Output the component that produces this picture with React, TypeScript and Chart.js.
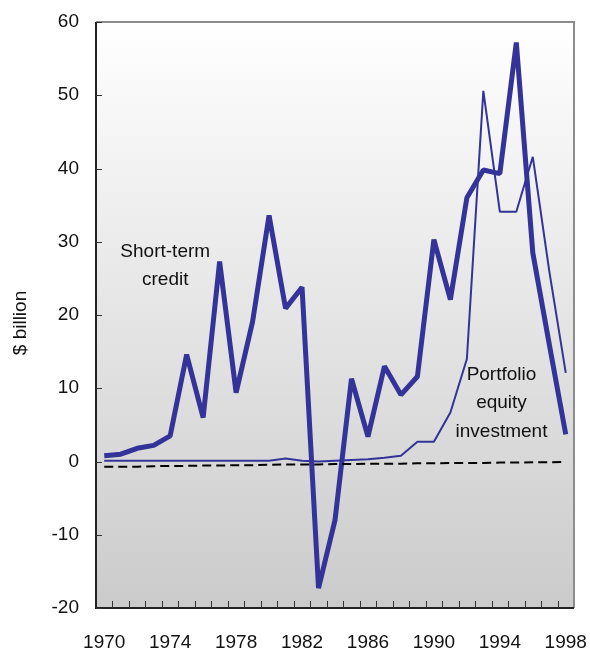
import React, { useEffect, useRef } from 'react';
import { Chart, registerables } from 'chart.js';

Chart.register(...registerables);

const years = [
  '1970', '1971', '1972', '1973', '1974', '1975', '1976', '1977', '1978', '1979',
  '1980', '1981', '1982', '1983', '1984', '1985', '1986', '1987', '1988', '1989',
  '1990', '1991', '1992', '1993', '1994', '1995', '1996', '1997', '1998',
];

const shortTermCredit = [
  0.8, 1.0, 1.8, 2.2, 3.5, 14.6, 6.0, 27.3, 9.4, 19.1,
  33.6, 20.9, 23.8, -17.3, -8.0, 11.3, 3.4, 13.0, 9.1, 11.6,
  30.3, 22.1, 36.0, 39.8, 39.3, 57.2, 28.5, 16.0, 3.7,
];

const portfolioEquity = [
  0.1, 0.1, 0.1, 0.1, 0.1, 0.1, 0.1, 0.1, 0.1, 0.1,
  0.1, 0.4, 0.1, 0.0, 0.1, 0.2, 0.3, 0.5, 0.8, 2.7,
  2.7, 6.7, 14.0, 50.6, 34.1, 34.1, 41.6, 26.0, 12.1,
];

const baseline = [
  -0.7, -0.7, -0.7, -0.65, -0.6, -0.6, -0.55, -0.55, -0.5, -0.5,
  -0.45, -0.4, -0.4, -0.4, -0.35, -0.35, -0.3, -0.3, -0.3, -0.25,
  -0.25, -0.2, -0.2, -0.2, -0.15, -0.15, -0.1, -0.1, -0.05,
];

const yMin = -20;
const yMax = 60;
const yStep = 10;
const yTitle = '$ billion';

const FONT = '"Liberation Sans", Arial, sans-serif';
const LINE_COLOR = '#333399';

// annotation anchors in data space (category index, value)
const annotations = [
  { lines: ['Short-term', 'credit'], x: 3.7, y: 28.6, gap: 3.8 },
  { lines: ['Portfolio', 'equity', 'investment'], x: 24.1, y: 11.9, gap: 3.9 },
];

const framePlugin = {
  id: 'frame',
  beforeDatasetsDraw(chart: any) {
    const { ctx, chartArea: a } = chart;
    const g = ctx.createLinearGradient(0, a.top, 0, a.bottom);
    g.addColorStop(0, '#ffffff');
    g.addColorStop(1, '#cbcbcb');
    ctx.save();
    ctx.fillStyle = g;
    ctx.fillRect(a.left, a.top, a.right - a.left, a.bottom - a.top);
    ctx.restore();
  },
  afterDraw(chart: any) {
    const { ctx, chartArea: a, scales } = chart;
    const xs = scales.x;
    const ys = scales.y;
    ctx.save();
    // grey top/right border
    ctx.strokeStyle = '#8c8c8c';
    ctx.lineWidth = 2;
    ctx.beginPath();
    ctx.moveTo(a.left, a.top);
    ctx.lineTo(a.right, a.top);
    ctx.lineTo(a.right, a.bottom);
    ctx.stroke();
    // black left/bottom axes
    ctx.strokeStyle = '#222222';
    ctx.lineWidth = 2;
    ctx.beginPath();
    ctx.moveTo(a.left, a.top);
    ctx.lineTo(a.left, a.bottom);
    ctx.lineTo(a.right, a.bottom);
    ctx.stroke();
    // inner ticks
    ctx.lineWidth = 1;
    ctx.strokeStyle = '#333333';
    ctx.beginPath();
    for (let v = yMin; v <= yMax; v += yStep) {
      const py = Math.round(ys.getPixelForValue(v)) + 0.5;
      ctx.moveTo(a.left, py);
      ctx.lineTo(a.left + 6, py);
    }
    const n = years.length;
    for (let i = 1; i < n; i++) {
      const px = Math.round((xs.getPixelForValue(i - 1) + xs.getPixelForValue(i)) / 2) + 0.5;
      ctx.moveTo(px, a.bottom);
      ctx.lineTo(px, a.bottom - 7);
    }
    ctx.stroke();
    // annotations
    ctx.fillStyle = '#111111';
    ctx.font = `19px ${FONT}`;
    ctx.textAlign = 'center';
    ctx.textBaseline = 'middle';
    annotations.forEach((an) => {
      const px = xs.getPixelForValue(an.x);
      an.lines.forEach((t, k) => {
        const py = ys.getPixelForValue(an.y - k * an.gap);
        ctx.fillText(t, px, py);
      });
    });
    // y title
    ctx.font = `19px ${FONT}`;
    ctx.translate(21, 323);
    ctx.rotate(-Math.PI / 2);
    ctx.fillText(yTitle, 0, 0);
    ctx.restore();
  },
};

export default function App() {
  const ref = useRef<HTMLCanvasElement>(null);
  useEffect(() => {
    if (!ref.current) return;
    const chart = new Chart(ref.current, {
      type: 'line',
      data: {
        labels: years,
        datasets: [
          {
            label: 'baseline',
            data: baseline,
            borderColor: '#000000',
            borderWidth: 2,
            borderDash: [9, 5],
            pointRadius: 0,
            tension: 0,
            fill: false,
          },
          {
            label: 'Portfolio equity investment',
            data: portfolioEquity,
            borderColor: LINE_COLOR,
            borderWidth: 2,
            borderJoinStyle: 'bevel',
            pointRadius: 0,
            tension: 0,
            fill: false,
          },
          {
            label: 'Short-term credit',
            data: shortTermCredit,
            borderColor: LINE_COLOR,
            borderWidth: 5,
            borderJoinStyle: 'bevel',
            pointRadius: 0,
            tension: 0,
            fill: false,
          },
        ],
      },
      options: {
        responsive: false,
        animation: false,
        layout: { autoPadding: false, padding: { top: 22, right: 16, left: 0, bottom: 0 } },
        plugins: {
          legend: { display: false },
          tooltip: { enabled: false },
        },
        scales: {
          x: {
            type: 'category',
            offset: true,
            grid: { display: false, drawTicks: false },
            border: { display: false },
            ticks: {
              autoSkip: false,
              maxRotation: 0,
              minRotation: 0,
              padding: 23,
              color: '#111111',
              font: { family: FONT, size: 19 },
              callback: (_v: any, i: number) => (i % 4 === 0 ? years[i] : ''),
            },
            afterFit: (s: any) => {
              s.height = 42;
              s.paddingLeft = 0;
              s.paddingRight = 0;
              s.paddingTop = 0;
              s.paddingBottom = 0;
            },
          },
          y: {
            min: yMin,
            max: yMax,
            grid: { display: false, drawTicks: false },
            border: { display: false },
            ticks: {
              stepSize: yStep,
              padding: 17,
              color: '#111111',
              font: { family: FONT, size: 19 },
            },
            afterFit: (s: any) => {
              s.width = 96;
              s.paddingLeft = 0;
              s.paddingRight = 0;
              s.paddingTop = 0;
              s.paddingBottom = 0;
            },
          },
        },
      },
      plugins: [framePlugin],
    });
    return () => chart.destroy();
  }, []);
  return (
    <div style={{ position: 'fixed', left: 0, top: 0, width: 590, height: 650, background: '#ffffff' }}>
      <canvas ref={ref} width={590} height={650} style={{ display: 'block' }} />
    </div>
  );
}
